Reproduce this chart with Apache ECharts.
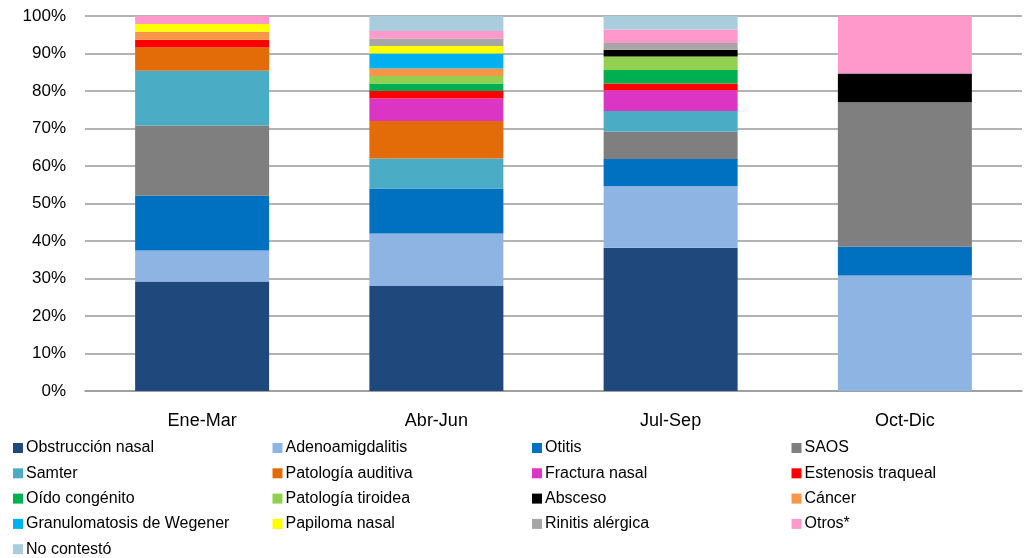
<!DOCTYPE html>
<html>
<head>
<meta charset="utf-8">
<script src="https://cdn.jsdelivr.net/npm/echarts@6/dist/echarts.min.js"></script>
<style>
html,body{margin:0;padding:0;background:#fff;}
#c{width:1024px;height:558px;}
</style>
</head>
<body>
<div id="c"></div>
<script>
var categories = ['Ene-Mar', 'Abr-Jun', 'Jul-Sep', 'Oct-Dic'];
var yTicks = ['0%','10%','20%','30%','40%','50%','60%','70%','80%','90%','100%'];

var obstruccionNasal     = [29.2, 28.0, 38.2, 0];
var adenoamigdalitis     = [8.3, 14.0, 16.4, 30.8];
var otitis               = [14.6, 12.0, 7.3, 7.7];
var saos                 = [18.7, 0, 7.3, 38.5];
var samter               = [14.6, 8.0, 5.5, 0];
var patologiaAuditiva    = [6.2, 10.0, 0, 0];
var fracturaNasal        = [0, 6.0, 5.5, 0];
var estenosisTraqueal    = [2.1, 2.0, 1.8, 0];
var oidoCongenito        = [0, 2.0, 3.6, 0];
var patologiaTiroidea    = [0, 2.0, 3.6, 0];
var absceso              = [0, 0, 1.8, 7.7];
var cancer               = [2.1, 2.0, 0, 0];
var granulomatosis       = [0, 4.0, 0, 0];
var papilomaNasal        = [2.1, 2.0, 0, 0];
var rinitisAlergica      = [0, 2.0, 1.8, 0];
var otros                = [2.1, 2.0, 3.6, 15.3];
var noContesto           = [0, 4.0, 3.6, 0];

var seriesDefs = [
  ['Obstrucción nasal', obstruccionNasal, '#1F497D'],
  ['Adenoamigdalitis', adenoamigdalitis, '#8EB4E3'],
  ['Otitis', otitis, '#0070C0'],
  ['SAOS', saos, '#7F7F7F'],
  ['Samter', samter, '#4BACC6'],
  ['Patología auditiva', patologiaAuditiva, '#E36C09'],
  ['Fractura nasal', fracturaNasal, '#DC35C3'],
  ['Estenosis traqueal', estenosisTraqueal, '#FF0000'],
  ['Oído congénito', oidoCongenito, '#00B050'],
  ['Patología tiroidea', patologiaTiroidea, '#92D050'],
  ['Absceso', absceso, '#000000'],
  ['Cáncer', cancer, '#F79646'],
  ['Granulomatosis de Wegener', granulomatosis, '#00B0F0'],
  ['Papiloma nasal', papilomaNasal, '#FFFF00'],
  ['Rinitis alérgica', rinitisAlergica, '#A6A6A6'],
  ['Otros*', otros, '#FF99CC'],
  ['No contestó', noContesto, '#A9CDDB']
];

var legendCols = [
  ['Obstrucción nasal','Samter','Oído congénito','Granulomatosis de Wegener','No contestó'],
  ['Adenoamigdalitis','Patología auditiva','Patología tiroidea','Papiloma nasal'],
  ['Otitis','Fractura nasal','Absceso','Rinitis alérgica'],
  ['SAOS','Estenosis traqueal','Cáncer','Otros*']
];
var legendX = [13, 272.5, 532, 791.5];

var FONT = '"Liberation Sans", Arial, sans-serif';

var chart = echarts.init(document.getElementById('c'), null, {renderer: 'canvas'});

var legends = legendCols.map(function (col, i) {
  return {
    data: col,
    orient: 'vertical',
    left: legendX[i],
    top: 440,
    itemWidth: 10,
    itemHeight: 10,
    itemGap: 9.3,
    padding: 0,
    icon: 'rect',
    selectedMode: false,
    textStyle: {fontFamily: FONT, fontSize: 16, color: '#000', padding: [0,0,0,-2], lineHeight: 16}
  };
});

var option = {
  animation: false,
  backgroundColor: '#fff',
  grid: {left: 85, right: 2, top: 16, bottom: 167, containLabel: false},
  legend: legends,
  xAxis: {
    type: 'category',
    data: categories,
    axisLine: {show: true, lineStyle: {color: '#9a9a9a', width: 1.5}},
    axisTick: {show: false},
    axisLabel: {fontFamily: FONT, fontSize: 18, color: '#000', margin: 21}
  },
  yAxis: {
    type: 'value',
    min: 0, max: 100, interval: 10,
    axisLine: {show: false},
    axisTick: {show: false},
    splitLine: {show: true, lineStyle: {color: '#9a9a9a', width: 1.5}},
    axisLabel: {
      fontFamily: FONT, fontSize: 17, color: '#000', margin: 19,
      formatter: function (v) { return yTicks[Math.round(v / 10)]; }
    }
  },
  series: seriesDefs.map(function (d) {
    return {
      name: d[0],
      type: 'bar',
      stack: 'total',
      data: d[1],
      barWidth: 134,
      itemStyle: {color: d[2]}
    };
  })
};
chart.setOption(option);
</script>
</body>
</html>
